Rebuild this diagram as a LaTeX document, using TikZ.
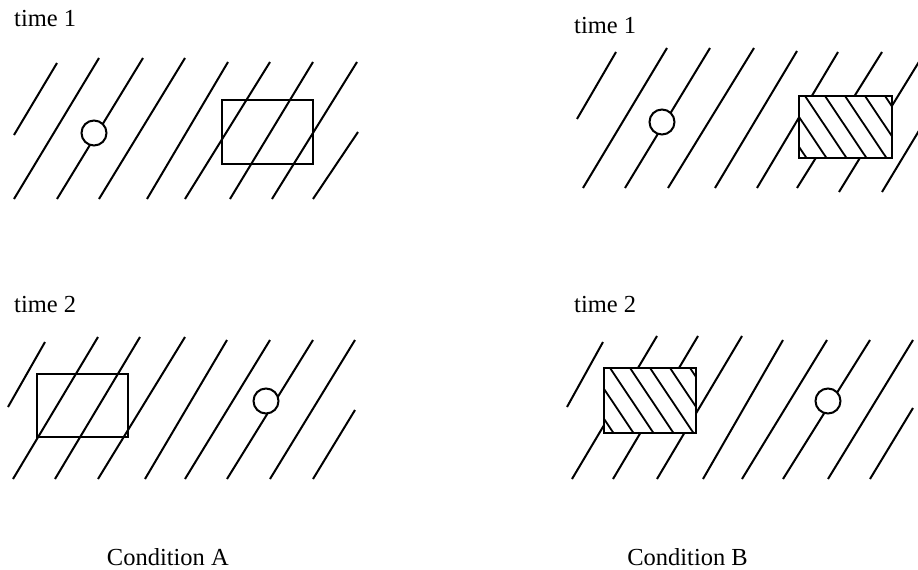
\documentclass[tikz,border=0pt]{standalone}
\usepackage{fontspec}
\setmainfont{Liberation Serif}
\begin{document}
\begin{tikzpicture}[x=1pt,y=-1pt,
  bg/.style={line width=2pt},
  box/.style={line width=2pt},
  hatchline/.style={line width=1.8pt},
  dot/.style={line width=2pt, fill=white},
  lbl/.style={font=\fontsize{24.5}{26}\selectfont, inner sep=0pt, anchor=base west}]
\useasboundingbox (0,0) rectangle (918,570);
% ---------- Condition A, time 1
\node[lbl] (a1t) at (14,27) {time 1};
\foreach \a/\b/\c/\d in {14/135/57/63, 14/199/99/58, 57/199/143/58, 99/199/185/58, 147/199/228/62, 185/199/270/62, 230/199/313/62, 272/199/357/62, 313/199/358/132}
  \draw[bg] (\a,\b) -- (\c,\d);
\draw[dot] (94,133) circle (12.5);
\draw[box] (222,100) rectangle (313,164);
% ---------- Condition A, time 2
\node[lbl] (a2t) at (14,312) {time 2};
\foreach \a/\b/\c/\d in {8/407/45/342, 13/479/98/337, 55/479/140/337, 98/479/185/337, 145/479/227/340, 185/479/270/340, 227/479/313/340, 270/479/355/340, 313/479/355/410}
  \draw[bg] (\a,\b) -- (\c,\d);
\draw[dot] (266,401) circle (12.5);
\draw[box] (37,374) rectangle (128,437);
% ---------- Condition B, time 1
\node[lbl] (b1t) at (574,33) {time 1};
\begin{scope}
\clip (0,0) rectangle (918,570);
\foreach \a/\b/\c/\d in {577/119/616/52, 583/188/667/48, 625/188/710/48, 668/188/754/48, 715/188/797/51, 757/188/838/52, 797/188/882/52, 839/192/925/52, 882/192/920/129}
  \draw[bg] (\a,\b) -- (\c,\d);
\end{scope}
\draw[dot] (662,122) circle (12.5);
\fill[white] (799,96) rectangle (892,158);
\begin{scope}
\clip (799,96) rectangle (892,158);
\foreach \x in {745,765,...,905}
  \draw[hatchline] (\x,96) -- ++(41.5,62);
\end{scope}
\draw[box] (799,96) rectangle (892,158);
% ---------- Condition B, time 2
\node[lbl] (b2t) at (574,312) {time 2};
\foreach \a/\b/\c/\d in {567/407/603/342, 572/479/657/336, 613/479/698/336, 657/479/742/336, 703/479/783/340, 742/479/827/340, 783/479/870/340, 828/479/913/340, 870/479/913/408}
  \draw[bg] (\a,\b) -- (\c,\d);
\draw[dot] (828,401) circle (12.5);
\fill[white] (604,368) rectangle (696,433);
\begin{scope}
\clip (604,368) rectangle (696,433);
\foreach \x in {550,570,...,710}
  \draw[hatchline] (\x,368) -- ++(43.5,65);
\end{scope}
\draw[box] (604,368) rectangle (696,433);
% ---------- captions
\node[lbl, anchor=base east] (capA) at (229,565) {Condition A};
\node[lbl, anchor=base east] (capB) at (748,565) {Condition B};
\end{tikzpicture}
\end{document}
